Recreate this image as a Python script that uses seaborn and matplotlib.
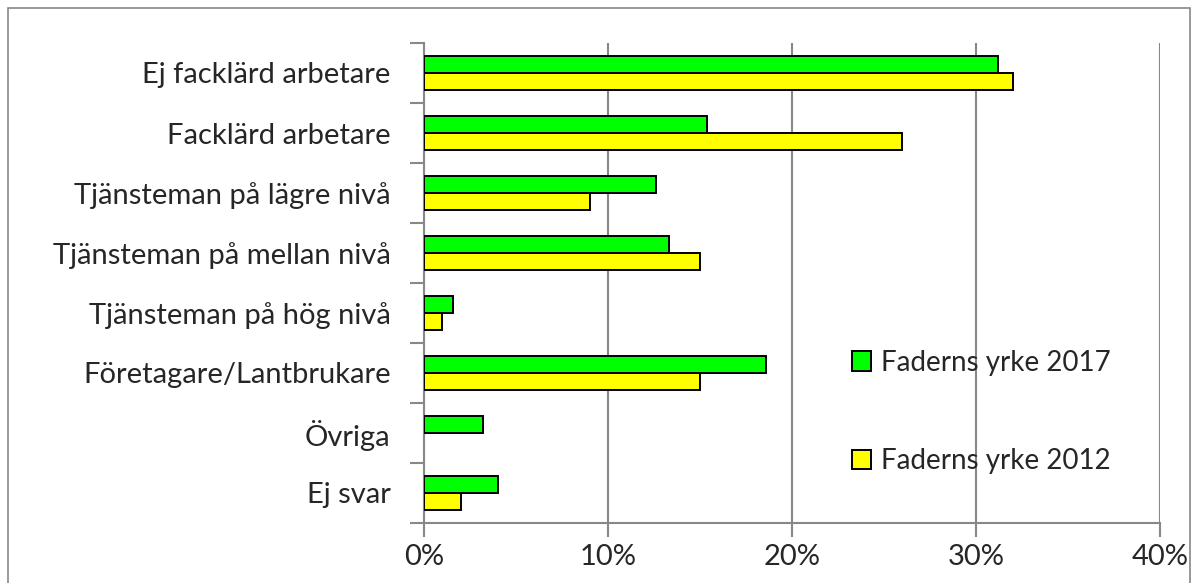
import pandas as pd
import matplotlib.pyplot as plt
import seaborn as sns
from matplotlib.patches import Rectangle
from matplotlib.ticker import PercentFormatter

# Data (percent)
categories = ['Ej facklärd arbetare', 'Facklärd arbetare', 'Tjänsteman på lägre nivå',
              'Tjänsteman på mellan nivå', 'Tjänsteman på hög nivå',
              'Företagare/Lantbrukare', 'Övriga', 'Ej svar']
yrke_2017 = [31.2, 15.4, 12.6, 13.3, 1.6, 18.6, 3.2, 4.0]
yrke_2012 = [32.0, 26.0, 9.0, 15.0, 1.0, 15.0, 0.0, 2.0]
series = ['Faderns yrke 2017', 'Faderns yrke 2012']

df = pd.DataFrame({
    'kategori': categories * 2,
    'andel': yrke_2017 + yrke_2012,
    'serie': [series[0]] * len(categories) + [series[1]] * len(categories),
})

sns.set_style('white')
plt.rcParams['font.family'] = ['Lato', 'DejaVu Sans']
fs = 21

fig = plt.figure(figsize=(12, 5.83), dpi=100)
ax = fig.add_axes([424 / 1200, 1 - 523 / 583, (1160 - 424) / 1200, (523 - 43) / 583])

sns.barplot(data=df, y='kategori', x='andel', hue='serie', order=categories,
            hue_order=series, palette=['#00ff00', '#ffff00'], orient='h',
            width=0.58, edgecolor='black', linewidth=1.4, saturation=1,
            gap=0, ax=ax, zorder=3)

for p in ax.patches:
    if p.get_width() == 0:
        p.set_linewidth(0)

ax.set_xlim(0, 40)
ax.set_ylim(len(categories) - 0.5, -0.5)
ax.set_xticks([0, 10, 20, 30, 40])
ax.xaxis.set_major_formatter(PercentFormatter(decimals=0))
ax.set_yticks(range(len(categories)))
ax.set_yticklabels(categories)
ax.set_yticks([i - 0.5 for i in range(len(categories) + 1)], minor=True)
ax.tick_params(axis='y', which='major', length=0, pad=24, labelsize=fs)
ax.tick_params(axis='y', which='minor', length=10, width=1.5, color='#888888', left=True)
ax.tick_params(axis='x', length=10, width=1.5, color='#888888', pad=5, labelsize=fs, bottom=True)
ax.set_xlabel('')
ax.set_ylabel('')

ax.grid(axis='x', color='#888888', linewidth=1.5, zorder=0)
ax.set_axisbelow(True)
for side in ['top', 'right']:
    ax.spines[side].set_visible(False)
for side in ['left', 'bottom']:
    ax.spines[side].set_color('#888888')
    ax.spines[side].set_linewidth(1.5)

leg = ax.legend(loc='upper left', bbox_to_anchor=(838 / 1200, 1 - 336 / 583),
                bbox_transform=fig.transFigure, frameon=False, fontsize=20,
                handlelength=0.7, handleheight=0.7, handletextpad=0.35,
                labelspacing=2.6, borderpad=0)
for h in leg.legend_handles:
    h.set_edgecolor('black')
    h.set_linewidth(1.4)

fig.add_artist(Rectangle((8 / 1200, -0.1), (1190 - 8) / 1200, 1.1 - 8 / 583,
                         transform=fig.transFigure, fill=False,
                         edgecolor='#888888', linewidth=1.2))

fig.savefig('out.png', dpi=100)
